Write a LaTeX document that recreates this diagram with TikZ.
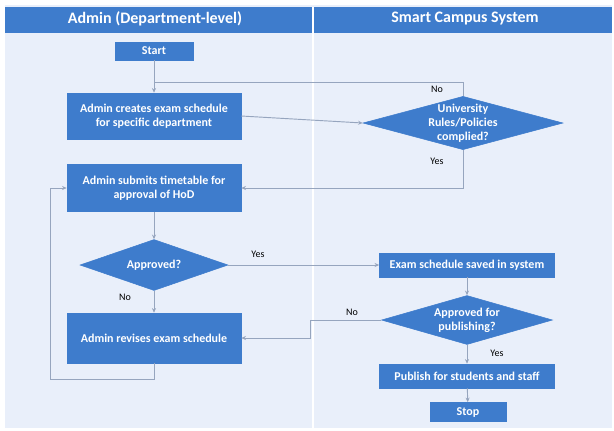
\documentclass[tikz,border=0pt]{standalone}
\usepackage{fontspec}
\setmainfont{Carlito}
\usetikzlibrary{shapes.geometric,arrows.meta}

\definecolor{laneblue}{RGB}{62,124,204}
\definecolor{lanebg}{RGB}{233,239,250}
\definecolor{flowgray}{RGB}{150,165,190}

\tikzset{
  box/.style={draw=laneblue,fill=laneblue,text=white,font=\fontsize{9}{10.5}\selectfont\bfseries,
    align=center,inner sep=0pt},
  decision/.style={diamond,draw=laneblue,fill=laneblue,inner sep=0pt},
  decisiontext/.style={text=white,font=\fontsize{9}{10.5}\selectfont\bfseries,align=center,inner sep=0pt},
  flow/.style={draw=flowgray,line width=0.7pt,-{Stealth[length=3.5pt,width=3pt]}},
  line/.style={draw=flowgray,line width=0.7pt},
  answer/.style={font=\fontsize{7.5}{9}\selectfont,text=black},
  lanetitle/.style={text=white,font=\fontsize{12}{14}\selectfont\bfseries}
}

\begin{document}
\begin{tikzpicture}[x=0.75pt,y=-0.75pt]
  \useasboundingbox (0,0) rectangle (614,430);

  % lanes
  \fill[lanebg] (5,5) rectangle (612,428);
  \fill[laneblue] (5,7) rectangle (612,33);
  \draw[white,line width=1pt] (313,7) -- (313,428);
  \node[lanetitle] (adminlane) at (155,19) {Admin (Department-level)};
  \node[lanetitle] (systemlane) at (465,19) {Smart Campus System};

  % steps
  \node[box,minimum width=58.5pt,minimum height=13.5pt] (start) at (154,51) {Start};
  \node[box,minimum width=130.5pt,minimum height=34.5pt] (create) at (154,116)
    {Admin creates exam schedule\\for specific department};
  \node[decision,minimum width=150pt,minimum height=40pt,
    label={[decisiontext]center:University\\Rules/Policies\\complied?}] (rules) at (463,123) {};
  \node[box,minimum width=130.5pt,minimum height=35.25pt] (submit) at (154,188)
    {Admin submits timetable for\\approval of HoD};
  \node[decision,minimum width=111pt,minimum height=38.25pt,
    label={[decisiontext]center:Approved?}] (approved) at (154,265) {};
  \node[box,minimum width=131.25pt,minimum height=18pt] (saved) at (467,265)
    {Exam schedule saved in system};
  \node[decision,minimum width=128.25pt,minimum height=36.75pt,
    label={[decisiontext]center:Approved for\\publishing?}] (publishq) at (467,320) {};
  \node[box,minimum width=130.5pt,minimum height=37.5pt] (revise) at (154,338)
    {Admin revises exam schedule};
  \node[box,minimum width=131.25pt,minimum height=18pt] (publish) at (467,376)
    {Publish for students and staff};
  \node[box,minimum width=57pt,minimum height=14.25pt] (stop) at (468,412) {Stop};

  \coordinate (join) at (154,82);
  \coordinate (nobend) at (310,320);
  \coordinate (loop) at (50,379);

  % connectors
  \draw[flow] (start) -- (create);
  \draw[flow] (create.east) -- (rules.west);
  \draw[line] (rules.north) |- (join);
  \draw[flow] (rules.south) |- (submit.east);
  \draw[flow] (submit) -- (approved);
  \draw[flow] (approved.east) -- (saved.west);
  \draw[flow] (approved.south) -- (revise.north);
  \draw[flow] (saved) -- (publishq);
  \draw[flow] (publishq.west) -- (nobend) |- (revise.east);
  \draw[flow] (publishq.south) -- (publish.north);
  \draw[flow] (publish) -- (stop);
  \draw[flow] (revise.south) |- (loop) |- (submit.west);

  \node[answer] (rulesno) at (437,89) {No};
  \node[answer] (rulesyes) at (437,161) {Yes};
  \node[answer] (approvedyes) at (258,254) {Yes};
  \node[answer] (approvedno) at (125,297) {No};
  \node[answer] (publishno) at (352,312) {No};
  \node[answer] (publishyes) at (497,353) {Yes};
\end{tikzpicture}
\end{document}
